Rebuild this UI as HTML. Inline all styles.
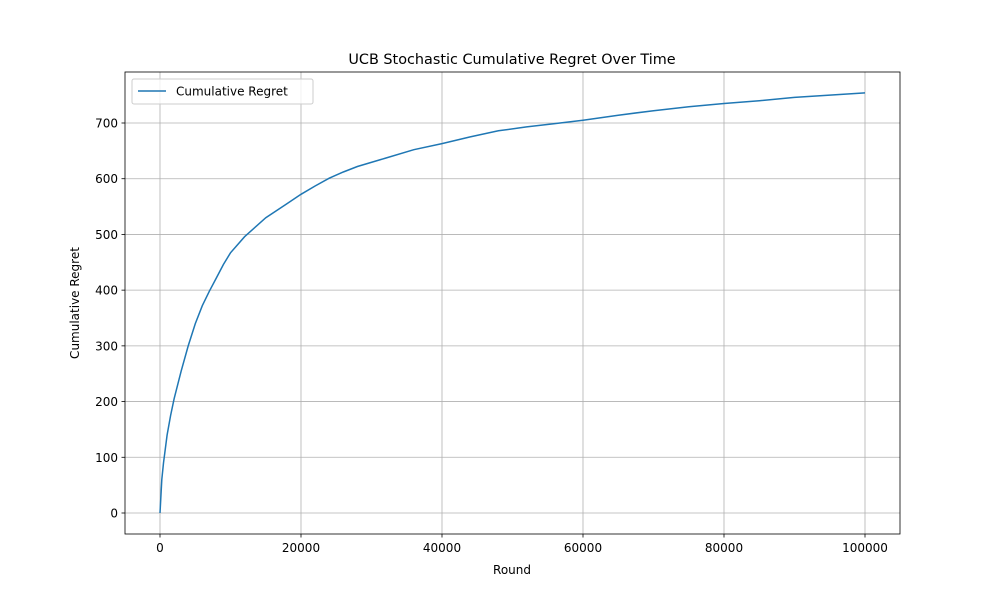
<!DOCTYPE html>
<html><head><meta charset="utf-8"><style>
body{margin:0;background:#fff;font-family:"Liberation Sans","DejaVu Sans",sans-serif}
svg text{font-family:"DejaVu Sans","Liberation Sans",sans-serif;fill:#000}
</style></head><body>
<svg id="chart" width="1000" height="600" xmlns="http://www.w3.org/2000/svg">
<rect width="1000" height="600" fill="#fff"/>
<g id="grid"></g>
<g id="ticks"></g>
<path id="line" fill="none" stroke="#1f77b4" stroke-width="1.5"/>
<rect x="125" y="72" width="775" height="462" fill="none" stroke="#000" stroke-width="0.8"/>
<text x="512" y="64" font-size="14.4" text-anchor="middle">UCB Stochastic Cumulative Regret Over Time</text>
<text x="512" y="574" font-size="12" text-anchor="middle">Round</text>
<text transform="translate(79,303) rotate(-90)" font-size="12" text-anchor="middle">Cumulative Regret</text>
<g>
<rect x="132" y="79" width="181" height="25" rx="2" fill="#fff" fill-opacity="0.8" stroke="#ccc"/>
<line x1="138" y1="91" x2="166" y2="91" stroke="#1f77b4" stroke-width="1.5"/>
<text x="176" y="95.5" font-size="12">Cumulative Regret</text>
</g>
</svg>
<script>
const rounds=[0,250,500,1000,1500,2000,3000,4000,5000,6000,7000,8000,9000,10000,12000,15000,18000,20000,22000,24000,26000,28000,32000,36000,40000,44000,48000,52000,56000,60000,65000,70000,75000,80000,85000,90000,95000,100000];
const regret=[0,60,90,140,175,205,255,300,340,372,398,422,446,467,496,530,555,572,587,601,612,622,637,652,663,675,686,693,699,705,714,722,729,735,740,746,750,754];
const xTicks=[0,20000,40000,60000,80000,100000];
const yTicks=[0,100,200,300,400,500,600,700];
const X=v=>160+v*(705/100000), Y=v=>513-v*(390/700);
const ns="http://www.w3.org/2000/svg";
const grid=document.getElementById('grid'), ticks=document.getElementById('ticks');
function mk(tag,attrs,parent){const e=document.createElementNS(ns,tag);for(const k in attrs)e.setAttribute(k,attrs[k]);parent.appendChild(e);return e;}
xTicks.forEach(t=>{const x=X(t);
 const g=mk('line',{x1:x,x2:x,y1:72,y2:534,stroke:'#b0b0b0','stroke-width':0.8},grid);
 
 
 mk('line',{x1:x,x2:x,y1:534,y2:537.5,stroke:'#000','stroke-width':0.8},ticks);
 const tx=mk('text',{x:x,y:552,'font-size':12,'text-anchor':'middle'},ticks);tx.textContent=t;
 
 
});
yTicks.forEach(t=>{const y=Y(t);
 const g=mk('line',{x1:125,x2:900,y1:y,y2:y,stroke:'#b0b0b0','stroke-width':0.8},grid);
 
 
 mk('line',{x1:121.5,x2:125,y1:y,y2:y,stroke:'#000','stroke-width':0.8},ticks);
 const tx=mk('text',{x:118,y:y+4.5,'font-size':12,'text-anchor':'end'},ticks);tx.textContent=t;
 
 
});
document.getElementById('line').setAttribute('d',rounds.map((r,i)=>(i?'L':'M')+X(r).toFixed(1)+','+Y(regret[i]).toFixed(1)).join(''));
</script>
</body></html>
